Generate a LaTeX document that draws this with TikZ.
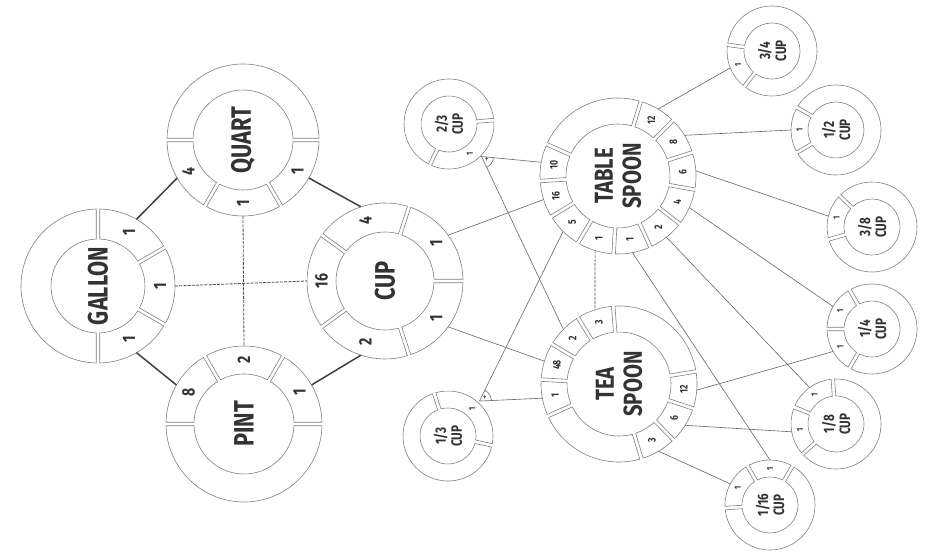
\documentclass[tikz,border=0pt]{standalone}
\usepackage{fontspec}
\setmainfont{Fira Sans}[FakeStretch=0.78]
\usetikzlibrary{calc}
\definecolor{ringcol}{gray}{0.5}
\definecolor{inkcol}{gray}{0.2}
\newcommand\gapw{3.5}
% ring segment: centre, a1, a2, ri, ro, label, anchor name, label style
\newcommand\segm[8]{%
  \pgfmathsetmacro\sgI{\gapw*90/(pi*#4)}%
  \pgfmathsetmacro\sgO{\gapw*90/(pi*#5)}%
  \pgfmathsetmacro\sgA{(#2+#3)/2}%
  \pgfmathsetmacro\sgR{(#4+#5)/2}%
  \begin{scope}[shift={(#1)}]
    \draw[ring] (#2+\sgO:#5) arc[start angle=#2+\sgO, end angle=#3-\sgO, radius=#5]
      -- (#3-\sgI:#4) arc[start angle=#3-\sgI, end angle=#2+\sgI, radius=#4] -- cycle;
    \node[#8] (#7-t) at (\sgA:\sgR) {#6};
    \coordinate (#7) at (\sgA:#5);
  \end{scope}}
% blank ring segment: centre, a1, a2, ri, ro
\newcommand\blankseg[5]{%
  \pgfmathsetmacro\sgI{\gapw*90/(pi*#4)}%
  \pgfmathsetmacro\sgO{\gapw*90/(pi*#5)}%
  \begin{scope}[shift={(#1)}]
    \draw[ring] (#2+\sgO:#5) arc[start angle=#2+\sgO, end angle=#3-\sgO, radius=#5]
      -- (#3-\sgI:#4) arc[start angle=#3-\sgI, end angle=#2+\sgI, radius=#4] -- cycle;
  \end{scope}}
\tikzset{
  ring/.style={draw=ringcol, line width=0.6pt},
  biglbl/.style={rotate=90, align=center, text=inkcol, inner sep=0pt, font=\bfseries\fontsize{28}{30}\selectfont},
  spoonlbl/.style={rotate=90, align=center, text=inkcol, inner sep=0pt, font=\bfseries\fontsize{26}{28}\selectfont},
  cuplbl/.style={rotate=90, align=center, text=inkcol, inner sep=0pt, font=\bfseries\fontsize{15}{16}\selectfont},
  num/.style={rotate=90, text=inkcol, inner sep=0pt, font=\bfseries\fontsize{18}{18}\selectfont},
  snum/.style={rotate=90, text=inkcol, inner sep=0pt, font=\bfseries\fontsize{11}{11}\selectfont},
  tnum/.style={rotate=90, text=inkcol, inner sep=0pt, font=\bfseries\fontsize{9}{9}\selectfont},
  plusmark/.style={text=inkcol, inner sep=0pt, font=\fontsize{10}{10}\selectfont},
  strong/.style={draw=black!75, line width=1.5pt},
  dashln/.style={draw=black!70, line width=0.8pt, dash pattern=on 3pt off 1.2pt},
  thinln/.style={draw=black!60, line width=0.6pt},
}
\begin{document}
\begin{tikzpicture}[x=1pt,y=1pt]
\useasboundingbox (0,0) rectangle (926,555);
\fill[white] (0,0) rectangle (926,555);

% ---------- centre labels ----------
\node[biglbl] (gal) at (98,269) {GALLON};
\node[biglbl] (qt)  at (243,415) {QUART};
\node[biglbl] (pt)  at (244,131) {PINT};
\node[biglbl] (cup) at (385,274) {CUP};
\node[spoonlbl] (tbs) at (618,379) {TABLE\\SPOON};
\node[spoonlbl] (tsp) at (619,171) {TEA\\SPOON};
\node[cuplbl] (c23) at (449,431) {2/3\\CUP};
\node[cuplbl] (c13) at (448,119) {1/3\\CUP};
\node[cuplbl] (c34) at (772,504) {3/4\\CUP};
\node[cuplbl] (c12) at (836,425) {1/2\\CUP};
\node[cuplbl] (c38) at (872,328) {3/8\\CUP};
\node[cuplbl] (c4)  at (872,226) {1/4\\CUP};
\node[cuplbl] (c8)  at (836,131) {1/8\\CUP};
\node[cuplbl] (c16) at (770,50)  {1/16\\CUP};

% ---------- GALLON ----------
\blankseg{gal}{90}{270}{47}{77}
\segm{gal}{30}{90}{47}{77}{1}{gal1a}{num}
\segm{gal}{-30}{30}{47}{77}{1}{gal1b}{num}
\segm{gal}{-90}{-30}{47}{77}{1}{gal1c}{num}
% ---------- QUART ----------
\blankseg{qt}{0}{180}{50}{76}
\segm{qt}{180}{240}{50}{76}{4}{qt4}{num}
\segm{qt}{240}{300}{50}{76}{1}{qt1a}{num}
\segm{qt}{300}{360}{50}{76}{1}{qt1b}{num}
% ---------- PINT ----------
\blankseg{pt}{180}{360}{50}{78}
\segm{pt}{0}{60}{50}{78}{1}{pt1}{num}
\segm{pt}{60}{120}{50}{78}{2}{pt2}{num}
\segm{pt}{120}{180}{50}{78}{8}{pt8}{num}
% ---------- CUP ----------
\segm{cup}{0}{72}{49}{78}{1}{cup1a}{num}
\segm{cup}{72}{144}{49}{78}{4}{cup4}{num}
\segm{cup}{144}{216}{49}{78}{16}{cup16}{num}
\segm{cup}{216}{288}{49}{78}{2}{cup2}{num}
\segm{cup}{288}{360}{49}{78}{1}{cup1b}{num}
% ---------- TABLESPOON ----------
\blankseg{tbs}{73}{156}{52}{78}
\segm{tbs}{45.3}{73}{52}{78}{12}{tbs12}{snum}
\segm{tbs}{17.6}{45.3}{52}{78}{8}{tbs8}{snum}
\segm{tbs}{-10.1}{17.6}{52}{78}{6}{tbs6}{snum}
\segm{tbs}{-37.8}{-10.1}{52}{78}{4}{tbs4}{snum}
\segm{tbs}{-65.5}{-37.8}{52}{78}{2}{tbs2}{snum}
\segm{tbs}{-93.2}{-65.5}{52}{78}{1}{tbs1b}{snum}
\segm{tbs}{-120.9}{-93.2}{52}{78}{1}{tbs1a}{snum}
\segm{tbs}{-148.6}{-120.9}{52}{78}{5}{tbs5}{snum}
\segm{tbs}{-176.3}{-148.6}{52}{78}{16}{tbs16}{snum}
\segm{tbs}{156}{183.7}{52}{78}{10}{tbs10}{snum}
% ---------- TEASPOON ----------
\blankseg{tsp}{9.25}{94.25}{52}{78}
\blankseg{tsp}{204.25}{286.75}{52}{78}
\segm{tsp}{94.25}{121.75}{52}{78}{3}{tsp3a}{snum}
\segm{tsp}{121.75}{149.25}{52}{78}{2}{tsp2}{snum}
\segm{tsp}{149.25}{176.75}{52}{78}{48}{tsp48}{snum}
\segm{tsp}{176.75}{204.25}{52}{78}{1}{tsp1}{snum}
\segm{tsp}{-73.25}{-45.75}{52}{78}{3}{tsp3b}{snum}
\segm{tsp}{-45.75}{-18.25}{52}{78}{6}{tsp6}{snum}
\segm{tsp}{-18.25}{9.25}{52}{78}{12}{tsp12}{snum}
% ---------- small cups ----------
\blankseg{c23}{5}{245}{28}{45}
\segm{c23}{245}{365}{28}{45}{1}{c23one}{tnum}
\blankseg{c13}{108}{348}{28}{45}
\segm{c13}{-12}{108}{28}{45}{1}{c13one}{tnum}
\blankseg{c34}{232}{532}{28}{45}
\segm{c34}{172}{232}{28}{45}{1}{c34one}{tnum}
\blankseg{c12}{210}{510}{28}{45}
\segm{c12}{150}{210}{28}{45}{1}{c12one}{tnum}
\blankseg{c38}{196}{496}{28}{45}
\segm{c38}{136}{196}{28}{45}{1}{c38one}{tnum}
\blankseg{c4}{240}{480}{28}{45}
\segm{c4}{120}{180}{28}{45}{1}{c4a}{tnum}
\segm{c4}{180}{240}{28}{45}{1}{c4b}{tnum}
\blankseg{c8}{222}{454}{28}{45}
\segm{c8}{94}{158}{28}{45}{1}{c8a}{tnum}
\segm{c8}{158}{222}{28}{45}{1}{c8b}{tnum}
\blankseg{c16}{184}{420}{28}{45}
\segm{c16}{60}{120}{28}{45}{1}{c16a}{tnum}
\segm{c16}{120}{184}{28}{45}{1}{c16b}{tnum}

% junction points on 2/3 and 1/3 cup
\coordinate (j23) at ($(c23)+(-45:46)$);
\coordinate (j13) at ($(c13)+(48:47)$);

% ---------- connectors ----------
\draw[strong] (gal1a) -- (qt4);
\draw[strong] (gal1c) -- (pt8);
\draw[strong] (qt1b) -- (cup4);
\draw[strong] (pt1) -- (cup2);
\draw[dashln] (gal1b) -- (cup16);
\draw[dashln] (qt1a) -- (pt2);
\draw[thinln] (cup1a) -- (tbs16);
\draw[thinln] (cup1b) -- (tsp48);
\draw[thinln] (tbs10) -- (j23) -- (tsp2);
\draw[thinln] (tbs5) -- (j13) -- (tsp1);
\draw[dashln, line width=0.7pt] (tbs1a) -- (tsp3a);
\draw[thinln] (tbs12) -- (c34one);
\draw[thinln] (tbs8) -- (c12one);
\draw[thinln] (tbs6) -- (c38one);
\draw[thinln] (tbs4) -- (c4a);
\draw[thinln] (tbs2) -- (c8a);
\draw[thinln] (tbs1b) -- (c16a);
\draw[thinln] (tsp12) -- (c4b);
\draw[thinln] (tsp6) -- (c8b);
\draw[thinln] (tsp3b) -- (c16b);

% "+" angle marks
\draw[thinln] ($(j23)+(-64.6:12)$) arc[start angle=-64.6, end angle=-5.7, radius=12];
\node[plusmark] (plus23) at ($(j23)+(-35:6.5)$) {+};
\draw[thinln] ($(j13)+(2.6:12)$) arc[start angle=2.6, end angle=63.7, radius=12];
\node[plusmark] (plus13) at ($(j13)+(33:6.5)$) {+};
\end{tikzpicture}
\end{document}
